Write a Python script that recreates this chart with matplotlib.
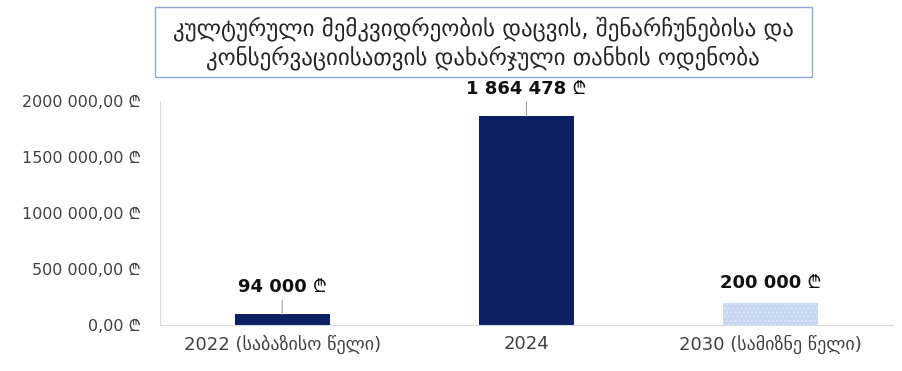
import matplotlib
matplotlib.use("Agg")
import matplotlib.pyplot as plt
from matplotlib.patches import FancyBboxPatch

# DejaVu has the Georgian letters, the others supply the Lari sign
plt.rcParams['font.family'] = ['DejaVu Sans', 'Noto Sans', 'Inter', 'Roboto',
                               'Open Sans', 'Lato', 'Liberation Sans']

# data
categories = ["2022 (საბაზისო წელი)", "2024", "2030 (სამიზნე წელი)"]
values = [94000, 1864478, 200000]
value_labels = ["94 000 ₾", "1 864 478 ₾", "200 000 ₾"]
yticks = [0, 500000, 1000000, 1500000, 2000000]
ytick_labels = ["0,00 ₾", "500 000,00 ₾", "1000 000,00 ₾", "1500 000,00 ₾", "2000 000,00 ₾"]
title = "კულტურული მემკვიდრეობის დაცვის, შენარჩუნებისა და\nკონსერვაციისათვის დახარჯული თანხის ოდენობა"

bar_colors = ["#0c1f63", "#0c1f63", "#c5d7f3"]

fig = plt.figure(figsize=(9.02, 3.71), dpi=100)
ax = fig.add_axes([160 / 902, 1 - 325 / 371, 733 / 902, 224 / 371])

x = range(len(categories))
bars = ax.bar(x, values, width=0.39, color=bar_colors, zorder=2)
bars[2].set_hatch("....")
bars[2].set_edgecolor("#dbe6f8")
bars[2].set_linewidth(0)

ax.set_xlim(-0.5, 2.5)
ax.set_ylim(0, 2000000)
ax.set_yticks(yticks)
ax.set_yticklabels(ytick_labels, fontsize=11.5, color="#404040")
ax.set_xticks(list(x))
ax.set_xticklabels(categories, fontsize=13, color="#404040")
ax.tick_params(axis="both", length=0)
ax.tick_params(axis="y", pad=14)
ax.tick_params(axis="x", pad=7)

for side in ["top", "right"]:
    ax.spines[side].set_visible(False)
ax.spines["left"].set_color("#d9dbe8")
ax.spines["bottom"].set_color("#d9d9d9")

# value labels with small leader lines
label_offsets = [165000, 165000, 95000]
for i, (v, lab, off) in enumerate(zip(values, value_labels, label_offsets)):
    ax.annotate(lab, xy=(i, v), xytext=(i, v + off), ha="center", va="bottom",
                fontsize=13, fontweight="bold", color="#111111",
                arrowprops=dict(arrowstyle="-", color="#a0a0a0", lw=0.8,
                                shrinkA=1, shrinkB=0) if i != 2 else None)

# title in a box
box = FancyBboxPatch((155 / 902, 1 - 77 / 371), 657 / 902, 70 / 371,
                     boxstyle="square,pad=0", transform=fig.transFigure,
                     facecolor="white", edgecolor="#8ea6d8", linewidth=1.0)
fig.patches.append(box)
fig.text(483 / 902, 1 - 43 / 371, title, ha="center", va="center",
         fontsize=16.5, color="#262626", linespacing=1.2)

fig.savefig("out.png", dpi=100)
